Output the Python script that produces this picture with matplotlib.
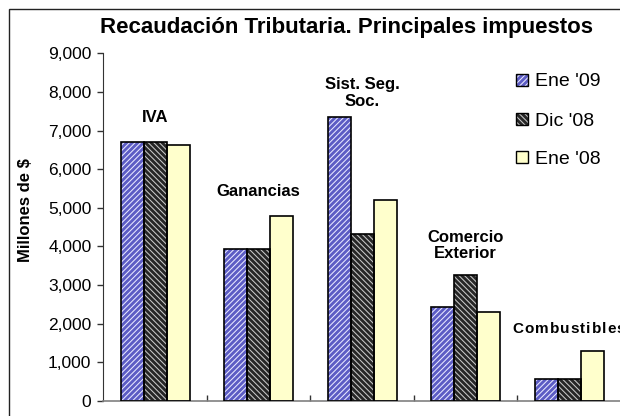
import matplotlib
matplotlib.use("Agg")
import matplotlib.pyplot as plt
from matplotlib.patches import Rectangle
from matplotlib.ticker import FuncFormatter, MultipleLocator
import numpy as np

categories = ['IVA', 'Ganancias', 'Sist. Seg.\nSoc.', 'Comercio\nExterior', 'Combustibles']
series_names = ["Ene '09", "Dic '08", "Ene '08"]
ene09 = [6700, 3940, 7350, 2440, 560]
dic08 = [6700, 3940, 4320, 3250, 560]
ene08 = [6640, 4790, 5210, 2290, 1300]

plt.rcParams['font.family'] = ['Liberation Sans', 'DejaVu Sans']
plt.rcParams['hatch.linewidth'] = 0.75

W, H = 620, 416
fig = plt.figure(figsize=(W / 100, H / 100), dpi=100)
fig.patch.set_facecolor('white')

# outer chart border
fig.add_artist(Rectangle((8.5 / W, -0.2), 1.0, (H - 8.5) / H + 0.2, transform=fig.transFigure,
                         fill=False, edgecolor='#222222', linewidth=1.0))

ax_left, ax_right = 103.3, 620.8
ax_bottom, ax_top = 400.7, 53.5
ax = fig.add_axes([ax_left / W, (H - ax_bottom) / H, (ax_right - ax_left) / W, (ax_bottom - ax_top) / H])
ax.set_facecolor('none')

styles = [
    dict(face='#5c5cc4', hatch='//////', hcolor='#e8e8ff'),
    dict(face='#262626', hatch='\\\\\\\\\\\\', hcolor='#c8c8c8'),
    dict(face='#ffffcc', hatch=None, hcolor='#ffffcc'),
]
series = [ene09, dic08, ene08]
x = np.arange(len(categories))
bw = 0.222
for k, (vals, st) in enumerate(zip(series, styles)):
    pos = x + (k - 1) * bw
    ax.bar(pos, vals, width=bw, color=st['face'], hatch=st['hatch'], edgecolor=st['hcolor'],
           linewidth=0, zorder=2)
    ax.bar(pos, vals, width=bw, fill=False, edgecolor='black', linewidth=1.2, zorder=3)

ax.set_xlim(-0.5, len(categories) - 0.5)
ax.set_ylim(0, 9000)
ax.yaxis.set_major_locator(MultipleLocator(1000))
ax.yaxis.set_major_formatter(FuncFormatter(lambda v, p: f'{int(v):,}'))
ax.set_xticks(np.arange(len(categories) - 1) + 0.5)
ax.set_xticklabels([])
ax.tick_params(axis='x', direction='in', length=4.5, color='#333333', width=1)
ax.tick_params(axis='y', direction='out', length=4.5, color='#333333', width=1, labelsize=12.5, pad=4)
for s in ['top', 'right']:
    ax.spines[s].set_visible(False)
ax.spines['left'].set_color('#333333')
ax.spines['bottom'].set_color('#808080')
ax.spines['bottom'].set_linewidth(1.2)

# category labels above groups (bottom gap in px)
offsets_px = [17, 16.5, 8.5, 14.5, 15]
for i, cat in enumerate(categories):
    if cat == 'Combustibles':
        continue
    top = max(ene09[i], dic08[i], ene08[i])
    ax.annotate(cat, (i, top), xytext=(0, offsets_px[i] * 0.72), textcoords='offset points',
                ha='center', va='bottom', fontsize=12, fontweight='bold', linespacing=1.1)

# Combustibles drawn with letter spacing
fig.canvas.draw()
renderer = fig.canvas.get_renderer()
i = 4
top = max(ene09[i], dic08[i], ene08[i])
word = categories[i]
xd, yd = ax.transData.transform((i, top))
yd += offsets_px[i]
widths = []
for ch in word:
    t = fig.text(0, 0, ch, fontsize=11, fontweight='bold')
    widths.append(t.get_window_extent(renderer).width)
    t.remove()
spacing = 1.0
total = sum(widths) + spacing * (len(word) - 1)
cx = xd - total / 2
for ch, w in zip(word, widths):
    fig.text(cx / W, yd / H, ch, fontsize=11, fontweight='bold', ha='left', va='bottom',
             transform=fig.transFigure)
    cx += w + spacing

# legend (manual)
leg_y = [80, 119, 157]
for lab, st, yy in zip(series_names, styles, leg_y):
    fig.add_artist(Rectangle((516 / W, (H - yy - 6) / H), 12 / W, 12 / H, transform=fig.transFigure,
                             facecolor=st['face'], hatch=st['hatch'], edgecolor=st['hcolor'], linewidth=0))
    fig.add_artist(Rectangle((516 / W, (H - yy - 6) / H), 12 / W, 12 / H, transform=fig.transFigure,
                             fill=False, edgecolor='black', linewidth=1.0))
    fig.text(535 / W, (H - yy) / H, lab, fontsize=14, ha='left', va='center_baseline')

fig.text(100 / W, (H - 33) / H, 'Recaudación Tributaria. Principales impuestos', fontsize=16,
         fontweight='bold', ha='left', va='baseline')
fig.text(26 / W, (H - 210) / H, 'Millones de $', fontsize=12, fontweight='bold', rotation=90,
         ha='center', va='center')

fig.savefig('out.png', dpi=100)
